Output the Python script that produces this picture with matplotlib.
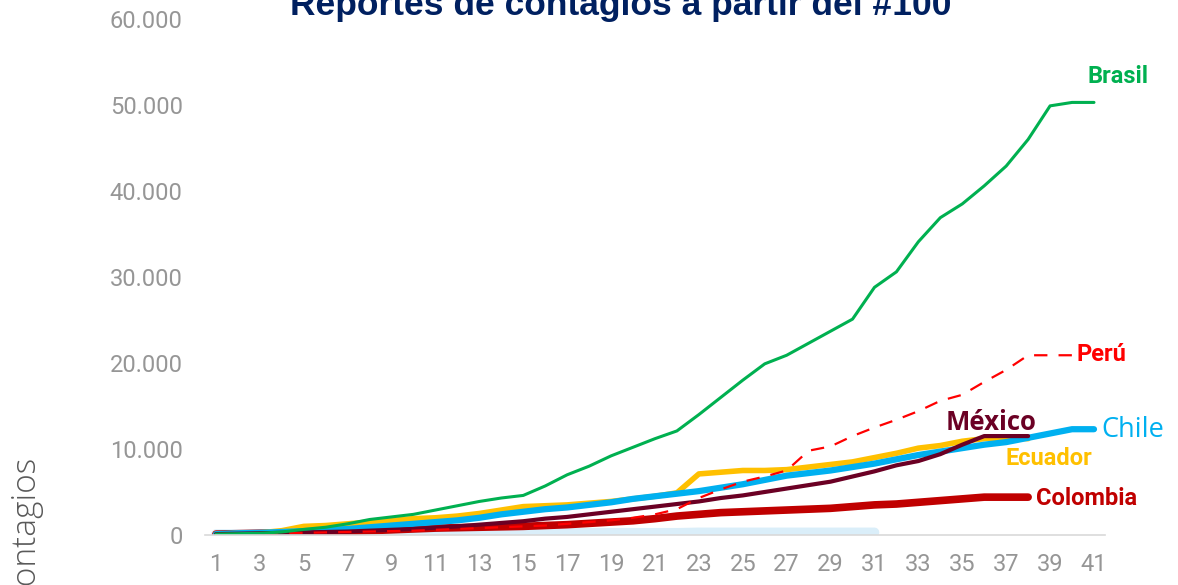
import matplotlib.pyplot as plt
from matplotlib.ticker import FuncFormatter

# days since case #100
days = list(range(1, 42))

brasil = [0.1, 0.15, 0.2, 0.35, 0.65, 0.9, 1.3, 1.8, 2.1, 2.4, 2.9, 3.4, 3.9, 4.3, 4.6,
          5.7, 7.0, 8.0, 9.2, 10.2, 11.2, 12.1, 14.0, 16.0, 18.0, 19.9, 20.9, 22.3, 23.7,
          25.1, 28.8, 30.6, 34.1, 36.9, 38.5, 40.6, 42.9, 46.0, 49.9, 50.3, 50.3]
chile = [0.1, 0.2, 0.25, 0.35, 0.45, 0.55, 0.7, 0.9, 1.1, 1.3, 1.5, 1.7, 2.0, 2.4, 2.7,
         3.0, 3.2, 3.5, 3.8, 4.2, 4.5, 4.8, 5.1, 5.5, 5.9, 6.4, 6.9, 7.2, 7.5, 7.9,
         8.3, 8.8, 9.3, 9.7, 10.1, 10.5, 10.8, 11.3, 11.8, 12.3, 12.3]
ecuador = [0.1, 0.2, 0.25, 0.5, 1.0, 1.1, 1.3, 1.5, 1.7, 1.9, 2.0, 2.2, 2.5, 2.9, 3.3,
           3.4, 3.5, 3.7, 3.9, 4.2, 4.5, 4.9, 7.1, 7.3, 7.5, 7.5, 7.6, 7.9, 8.2, 8.5,
           9.0, 9.5, 10.1, 10.4, 10.9, 11.2, 11.3, 11.2]
mexico = [0.1, 0.15, 0.2, 0.25, 0.3, 0.35, 0.4, 0.5, 0.6, 0.7, 0.85, 1.0, 1.2, 1.4, 1.6,
          1.9, 2.1, 2.4, 2.7, 3.0, 3.3, 3.6, 3.9, 4.3, 4.6, 5.0, 5.4, 5.8, 6.2, 6.8,
          7.4, 8.1, 8.6, 9.4, 10.5, 11.5, 11.5, 11.5]
peru = [0.1, 0.12, 0.15, 0.2, 0.25, 0.3, 0.35, 0.4, 0.45, 0.5, 0.6, 0.7, 0.8, 0.9, 1.0,
        1.1, 1.3, 1.5, 1.7, 2.0, 2.4, 3.0, 4.3, 5.3, 6.2, 6.8, 7.5, 9.8, 10.3, 11.5,
        12.5, 13.4, 14.4, 15.6, 16.3, 17.8, 19.2, 20.9, 20.9, 20.9]
colombia = [0.1, 0.15, 0.2, 0.25, 0.3, 0.35, 0.4, 0.5, 0.6, 0.7, 0.8, 0.85, 0.9, 0.95, 1.0,
            1.1, 1.2, 1.35, 1.5, 1.65, 1.9, 2.2, 2.4, 2.6, 2.7, 2.8, 2.9, 3.0, 3.1, 3.3,
            3.5, 3.6, 3.8, 4.0, 4.2, 4.4, 4.4, 4.4]
otros = [0.1, 0.1, 0.1, 0.15, 0.15, 0.15, 0.2, 0.2, 0.2, 0.2, 0.2, 0.2, 0.2, 0.2, 0.2,
         0.25, 0.25, 0.25, 0.25, 0.25, 0.25, 0.25, 0.3, 0.3, 0.3, 0.3, 0.3, 0.3, 0.3, 0.3, 0.3]


def k(vals):
    return [v * 1000 for v in vals]


fig = plt.figure(figsize=(11.78, 5.85), dpi=100)
ax = fig.add_axes([0.174, 0.0855, 0.764, 0.882])

ax.plot(days[:len(otros)], k(otros), color='#DAEEF9', lw=7, solid_capstyle='round')
ax.plot(days[:len(colombia)], k(colombia), color='#C00000', lw=5.5, solid_capstyle='round')
ax.plot(days[:len(ecuador)], k(ecuador), color='#FFC000', lw=4, solid_capstyle='round')
ax.plot(days[:len(chile)], k(chile), color='#00B0F0', lw=4.5, solid_capstyle='round')
ax.plot(days[:len(mexico)], k(mexico), color='#6B0024', lw=3, solid_capstyle='round')
ax.plot(days[:len(peru)], k(peru), color='#FF0000', lw=1.6, dashes=(6, 5))
ax.plot(days[:len(brasil)], k(brasil), color='#00B050', lw=2.2, solid_capstyle='round')

# series labels
lab = dict(fontfamily='Roboto', fontweight='bold', fontsize=17, va='center', ha='left')
ax.text(40.7, 53300, 'Brasil', color='#00B050', **lab)
ax.text(40.2, 21000, 'Perú', color='#FF0000', **lab)
ax.text(36.95, 8950, 'Ecuador', color='#FFC000', **lab)
ax.text(38.35, 4300, 'Colombia', color='#C00000', **lab)
ax.text(34.25, 13100, 'México', color='#6B0024', fontfamily='Open Sans',
        fontweight='bold', fontsize=18.5, va='center', ha='left')
ax.text(41.35, 12200, 'Chile', color='#00B0F0', fontfamily='Open Sans',
        fontsize=19.5, va='center', ha='left')

ax.set_xlim(0.5, 41.5)
ax.set_ylim(0, 60000)
ax.set_xticks(days[::2])
ax.set_yticks(range(0, 60001, 10000))
ax.yaxis.set_major_formatter(FuncFormatter(lambda v, p: f'{int(v):,}'.replace(',', '.')))

for s in ['top', 'right', 'left']:
    ax.spines[s].set_visible(False)
ax.spines['bottom'].set_color('#D9D9D9')
ax.spines['bottom'].set_linewidth(1.2)
ax.tick_params(length=0, labelsize=17, labelcolor='#969696')
ax.tick_params(axis='y', pad=16)
ax.tick_params(axis='x', pad=13)
for t in ax.get_xticklabels() + ax.get_yticklabels():
    t.set_fontfamily('Roboto')

ax.set_ylabel('Contagios', fontfamily='Open Sans', fontweight='light', fontsize=24,
              color='#595959')
ax.yaxis.set_label_coords(-0.181, 0.01)

fig.text(0.527, 0.974, 'Reportes de contagios a partir del #100', ha='center',
         va='baseline', fontfamily='Liberation Sans', fontweight='bold', fontsize=25.5,
         color='#002060')

fig.savefig('out.png', dpi=100)
